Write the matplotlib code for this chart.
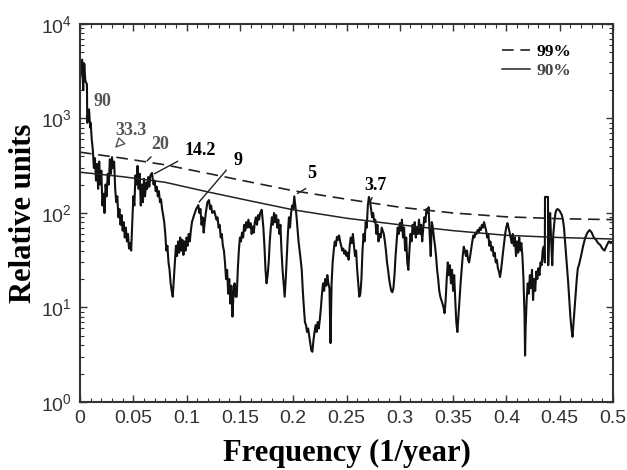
import numpy as np
import matplotlib
matplotlib.use("Agg")
import matplotlib.pyplot as plt
from matplotlib.ticker import LogLocator, MultipleLocator, NullFormatter

# spectrum (frequency in 1/year, power in relative units)
freq = [0.000, 0.002, 0.003, 0.004, 0.005, 0.0065, 0.0068, 0.0075, 0.0085, 0.0095,
        0.010, 0.011, 0.012, 0.013, 0.014, 0.015, 0.016, 0.017, 0.018, 0.019,
        0.020, 0.021, 0.022, 0.023, 0.024, 0.025, 0.026, 0.027, 0.028, 0.029,
        0.030, 0.031, 0.032, 0.033, 0.034, 0.035, 0.036, 0.037, 0.038, 0.039,
        0.040, 0.041, 0.042, 0.043, 0.044, 0.045, 0.046, 0.047, 0.048, 0.049,
        0.050, 0.051, 0.052, 0.053, 0.054, 0.055, 0.056, 0.057, 0.058, 0.059,
        0.060, 0.061, 0.062, 0.063, 0.064, 0.065, 0.066, 0.0675, 0.069, 0.070,
        0.071, 0.072, 0.073, 0.074, 0.075, 0.076, 0.077, 0.078, 0.079, 0.080,
        0.081, 0.082, 0.083, 0.084, 0.085, 0.086, 0.087, 0.088, 0.089, 0.090,
        0.091, 0.092, 0.093, 0.094, 0.095, 0.096, 0.097, 0.098, 0.099, 0.100,
        0.101, 0.102, 0.103, 0.104, 0.105, 0.107, 0.109, 0.111, 0.112, 0.113,
        0.114, 0.115, 0.116, 0.117, 0.118, 0.1195, 0.121, 0.122, 0.123, 0.124,
        0.126, 0.128, 0.129, 0.130, 0.131, 0.132, 0.133, 0.134, 0.135, 0.136,
        0.137, 0.138, 0.139, 0.140, 0.141, 0.142, 0.143, 0.144, 0.145, 0.146,
        0.147, 0.148, 0.149, 0.150, 0.151, 0.152, 0.153, 0.154, 0.155, 0.156,
        0.157, 0.158, 0.159, 0.160, 0.161, 0.162, 0.163, 0.164, 0.165, 0.166,
        0.167, 0.168, 0.169, 0.1705, 0.172, 0.173, 0.174, 0.175, 0.176, 0.177,
        0.178, 0.179, 0.180, 0.181, 0.182, 0.183, 0.184, 0.185, 0.186, 0.187,
        0.188, 0.189, 0.190, 0.191, 0.192, 0.193, 0.194, 0.195, 0.196, 0.197,
        0.198, 0.199, 0.200, 0.201, 0.202, 0.203, 0.204, 0.205, 0.206, 0.207,
        0.208, 0.209, 0.210, 0.211, 0.212, 0.213, 0.214, 0.215, 0.216, 0.217,
        0.218, 0.219, 0.220, 0.221, 0.222, 0.223, 0.224, 0.225, 0.226, 0.227,
        0.228, 0.229, 0.230, 0.231, 0.232, 0.233, 0.234, 0.235, 0.236, 0.237,
        0.238, 0.239, 0.240, 0.241, 0.242, 0.243, 0.244, 0.245, 0.246, 0.247,
        0.248, 0.249, 0.250, 0.251, 0.252, 0.253, 0.254, 0.255, 0.256, 0.257,
        0.258, 0.259, 0.260, 0.261, 0.262, 0.263, 0.264, 0.265, 0.266, 0.267,
        0.268, 0.269, 0.270, 0.271, 0.272, 0.273, 0.274, 0.275, 0.276, 0.277,
        0.278, 0.279, 0.280, 0.281, 0.282, 0.283, 0.284, 0.285, 0.286, 0.287,
        0.288, 0.289, 0.290, 0.291, 0.292, 0.293, 0.294, 0.295, 0.296, 0.297,
        0.298, 0.299, 0.300, 0.301, 0.302, 0.303, 0.304, 0.305, 0.306, 0.307,
        0.308, 0.309, 0.310, 0.311, 0.312, 0.313, 0.314, 0.315, 0.316, 0.317,
        0.318, 0.319, 0.320, 0.321, 0.322, 0.323, 0.324, 0.325, 0.326, 0.327,
        0.328, 0.329, 0.330, 0.331, 0.332, 0.333, 0.334, 0.335, 0.336, 0.337,
        0.338, 0.339, 0.340, 0.341, 0.342, 0.343, 0.344, 0.345, 0.346, 0.347,
        0.348, 0.349, 0.350, 0.351, 0.352, 0.353, 0.354, 0.355, 0.356, 0.357,
        0.358, 0.359, 0.360, 0.361, 0.362, 0.363, 0.364, 0.365, 0.366, 0.367,
        0.368, 0.369, 0.370, 0.371, 0.372, 0.373, 0.374, 0.375, 0.376, 0.377,
        0.378, 0.379, 0.380, 0.381, 0.382, 0.383, 0.384, 0.385, 0.386, 0.387,
        0.388, 0.389, 0.390, 0.391, 0.392, 0.393, 0.394, 0.395, 0.396, 0.397,
        0.398, 0.399, 0.400, 0.401, 0.402, 0.403, 0.404, 0.405, 0.406, 0.407,
        0.408, 0.409, 0.410, 0.411, 0.412, 0.413, 0.414, 0.415, 0.416, 0.417,
        0.4175, 0.418, 0.419, 0.420, 0.421, 0.422, 0.423, 0.424, 0.425, 0.426,
        0.427, 0.428, 0.429, 0.430, 0.431, 0.432, 0.433, 0.434, 0.435, 0.436,
        0.4362, 0.439, 0.4392, 0.440, 0.441, 0.442, 0.443, 0.444, 0.445, 0.446,
        0.447, 0.448, 0.449, 0.450, 0.451, 0.452, 0.453, 0.454, 0.455, 0.456,
        0.457, 0.458, 0.459, 0.460, 0.461, 0.462, 0.463, 0.464, 0.465, 0.466,
        0.467, 0.468, 0.470, 0.472, 0.474, 0.476, 0.478, 0.480, 0.482, 0.484,
        0.486, 0.488, 0.490, 0.492, 0.494, 0.496, 0.498, 0.500]
power = [2600, 4200, 2000, 3800, 2500, 2300, 900, 1100, 1250, 800,
         900, 600, 470, 300, 380, 220, 330, 180, 350, 200,
         280, 120, 160, 100, 200, 150, 260, 200, 370, 260,
         390, 300, 350, 180, 130, 150, 90, 110, 75, 95,
         65, 80, 55, 70, 50, 60, 42, 48, 40, 80,
         150, 120, 250, 200, 315, 180, 260, 120, 200, 130,
         230, 150, 210, 180, 240, 190, 250, 265, 200, 220,
         170, 190, 150, 170, 130, 140, 110, 95, 80, 60,
         40, 45, 30, 25, 18, 15, 13, 20, 30, 45,
         35, 50, 38, 55, 40, 52, 36, 50, 40, 55,
         45, 60, 50, 65, 80, 95, 110, 121, 100, 110,
         75, 90, 62, 80, 100, 130, 137, 110, 120, 100,
         105, 85, 90, 70, 75, 55, 60, 45, 40, 30,
         20, 25, 14, 20, 11, 17, 8, 14, 18, 13,
         13, 25, 40, 55, 50, 62, 55, 75, 65, 80,
         70, 85, 70, 78, 60, 72, 62, 80, 90, 75,
         95, 85, 100, 108, 70, 45, 25, 18, 22, 30,
         50, 70, 90, 75, 100, 80, 95, 70, 85, 60,
         75, 40, 25, 18, 13, 20, 35, 60, 90, 70,
         100, 120, 110, 150, 120, 95, 70, 50, 40, 32,
         25, 15, 10, 7, 6.5, 5.5, 6, 5, 4.2, 3.5,
         3.4, 4.5, 5.5, 6.5, 5.5, 7, 6, 7.5, 10, 14,
         18, 15, 20, 17, 22, 18, 16, 4.2, 18, 30,
         40, 50, 45, 56, 52, 58, 50, 45, 40, 42,
         37, 40, 35, 38, 32, 45, 55, 48, 60, 45,
         35, 40, 25, 18, 13, 14, 20, 40, 60, 50,
         80, 70, 120, 148, 135, 110, 90, 100, 80, 85,
         60, 75, 50, 60, 55, 70, 65, 60, 50, 40,
         30, 25, 20, 17, 15, 14.5, 16, 22, 35, 50,
         70, 60, 78, 65, 85, 55, 70, 40, 55, 30,
         25, 40, 60, 50, 75, 60, 80, 55, 70, 60,
         85, 60, 75, 50, 70, 90, 80, 110, 100, 115,
         60, 35, 80, 70, 55, 45, 35, 25, 20, 15,
         13, 12, 11, 10, 8.7, 12, 20, 30, 22, 28,
         18, 25, 15, 22, 12, 7, 5.5, 8, 12, 18,
         25, 35, 44, 40, 35, 40, 32, 30, 35, 42,
         50, 58, 55, 62, 60, 66, 62, 70, 66, 75,
         70, 80, 72, 65, 55, 60, 45, 50, 40, 44,
         35, 38, 30, 32, 26, 24, 21, 25, 32, 40,
         50, 62, 72, 78, 70, 62, 55, 48, 60, 45,
         55, 35, 50, 38, 55, 40, 48, 35, 20, 8,
         3.1, 6, 12, 18, 14, 22, 16, 25, 12, 20,
         15, 24, 20, 26, 22, 30, 28, 40, 44, 30,
         148, 148, 28, 60, 100, 50, 28, 60, 80, 100,
         108, 110, 108, 105, 100, 95, 85, 70, 50, 35,
         25, 18, 12, 8, 6, 4.9, 7, 10, 14, 20,
         26, 28, 35, 45, 55, 62, 66, 62, 55, 52,
         48, 46, 42, 40, 45, 50, 48, 50]

# significance levels
thr_freq = [0, 0.04, 0.08, 0.12, 0.16, 0.2, 0.25, 0.3, 0.35, 0.4, 0.45, 0.5]
level99 = [440, 380, 323, 262, 212, 172, 140, 115, 100, 91, 87, 85]
level90 = [270, 242, 211, 167, 134, 108, 88, 75, 65, 58, 55, 53]

# peak labels (period in years)
peak_labels = ["90", "33.3", "20", "14.2", "9", "5", "3.7"]
label_pos = [(0.0206, 1500), (0.0478, 755), (0.075, 525), (0.1126, 453),
             (0.148, 355), (0.2176, 259), (0.277, 193)]
label_col = ["#555555", "#555555", "#555555", "black", "black", "black", "black"]

plt.rcParams["mathtext.default"] = "regular"
serif = "Liberation Serif"
sans = "Liberation Sans"

fig = plt.figure(figsize=(6.27, 4.70), dpi=100)
ax = fig.add_axes([0.1276, 0.1447, 0.8501, 0.8043])

ax.plot(freq, power, color="#111111", lw=1.5)
ax.plot(thr_freq, level99, color="#222222", lw=1.2, ls=(0, (7, 4)), label="99%")
ax.plot(thr_freq, level90, color="#222222", lw=1.1, label="90%")

for txt, (xx, yy), c in zip(peak_labels, label_pos, label_col):
    ax.text(xx, yy, txt, ha="center", va="center", fontsize=13,
            family=serif, fontweight="bold", color=c)

# leader lines to the peaks
leaders = [((0.040, 592), (0.031, 464)), ((0.0685, 412), (0.061, 339)),
           ((0.094, 364), (0.0675, 252)), ((0.139, 299), (0.110, 124)),
           ((0.214, 188), (0.2017, 155)), ((0.275, 155), (0.271, 121))]
for i, (p0, p1) in enumerate(leaders):
    if i == 0:
        ax.annotate("", xy=p1, xytext=p0,
                    arrowprops=dict(arrowstyle="-|>,head_length=0.6,head_width=0.3",
                                    fc="white", ec="#555555", lw=1.0))
    else:
        ax.annotate("", xy=p1, xytext=p0,
                    arrowprops=dict(arrowstyle="-", color="#222222", lw=1.0))

ax.set_yscale("log")
ax.set_xlim(0, 0.5)
ax.set_ylim(1, 1e4)
ax.xaxis.set_minor_locator(MultipleLocator(0.01))
ax.yaxis.set_minor_locator(LogLocator(base=10, subs=np.arange(2, 10)))
ax.yaxis.set_minor_formatter(NullFormatter())
ax.set_xticks(np.arange(0, 0.51, 0.05))
ax.set_xticklabels(["0", "0.05", "0.1", "0.15", "0.2", "0.25", "0.3",
                    "0.35", "0.4", "0.45", "0.5"])
ax.set_yticks([1, 10, 100, 1000, 10000])
ax.set_yticklabels(["$10^{0}$", "$10^{1}$", "$10^{2}$", "$10^{3}$", "$10^{4}$"])

ax.tick_params(which="both", direction="in", top=True, right=True,
               colors="#333333", labelcolor="#333333")
ax.tick_params(which="major", length=5, width=1.0, labelsize=14, pad=6)
ax.tick_params(which="minor", length=3, width=0.8)
for lab in ax.get_xticklabels() + ax.get_yticklabels():
    lab.set_family(sans)
for sp in ax.spines.values():
    sp.set_color("#333333")
    sp.set_linewidth(1.5)

ax.set_xlabel("Frequency (1/year)", family=serif, fontweight="bold",
              fontsize=22, labelpad=8)
ax.set_ylabel("Relative units", family=serif, fontweight="bold",
              fontsize=22, labelpad=2)

leg = ax.legend(loc="upper right", bbox_to_anchor=(0.935, 0.965), frameon=False,
                handlelength=1.6, handletextpad=0.4, labelspacing=0.15,
                borderaxespad=0,
                prop={"family": serif, "weight": "bold", "size": 12.5})
leg.get_texts()[1].set_color("#444444")

fig.savefig("out.png", dpi=100, facecolor="white")
